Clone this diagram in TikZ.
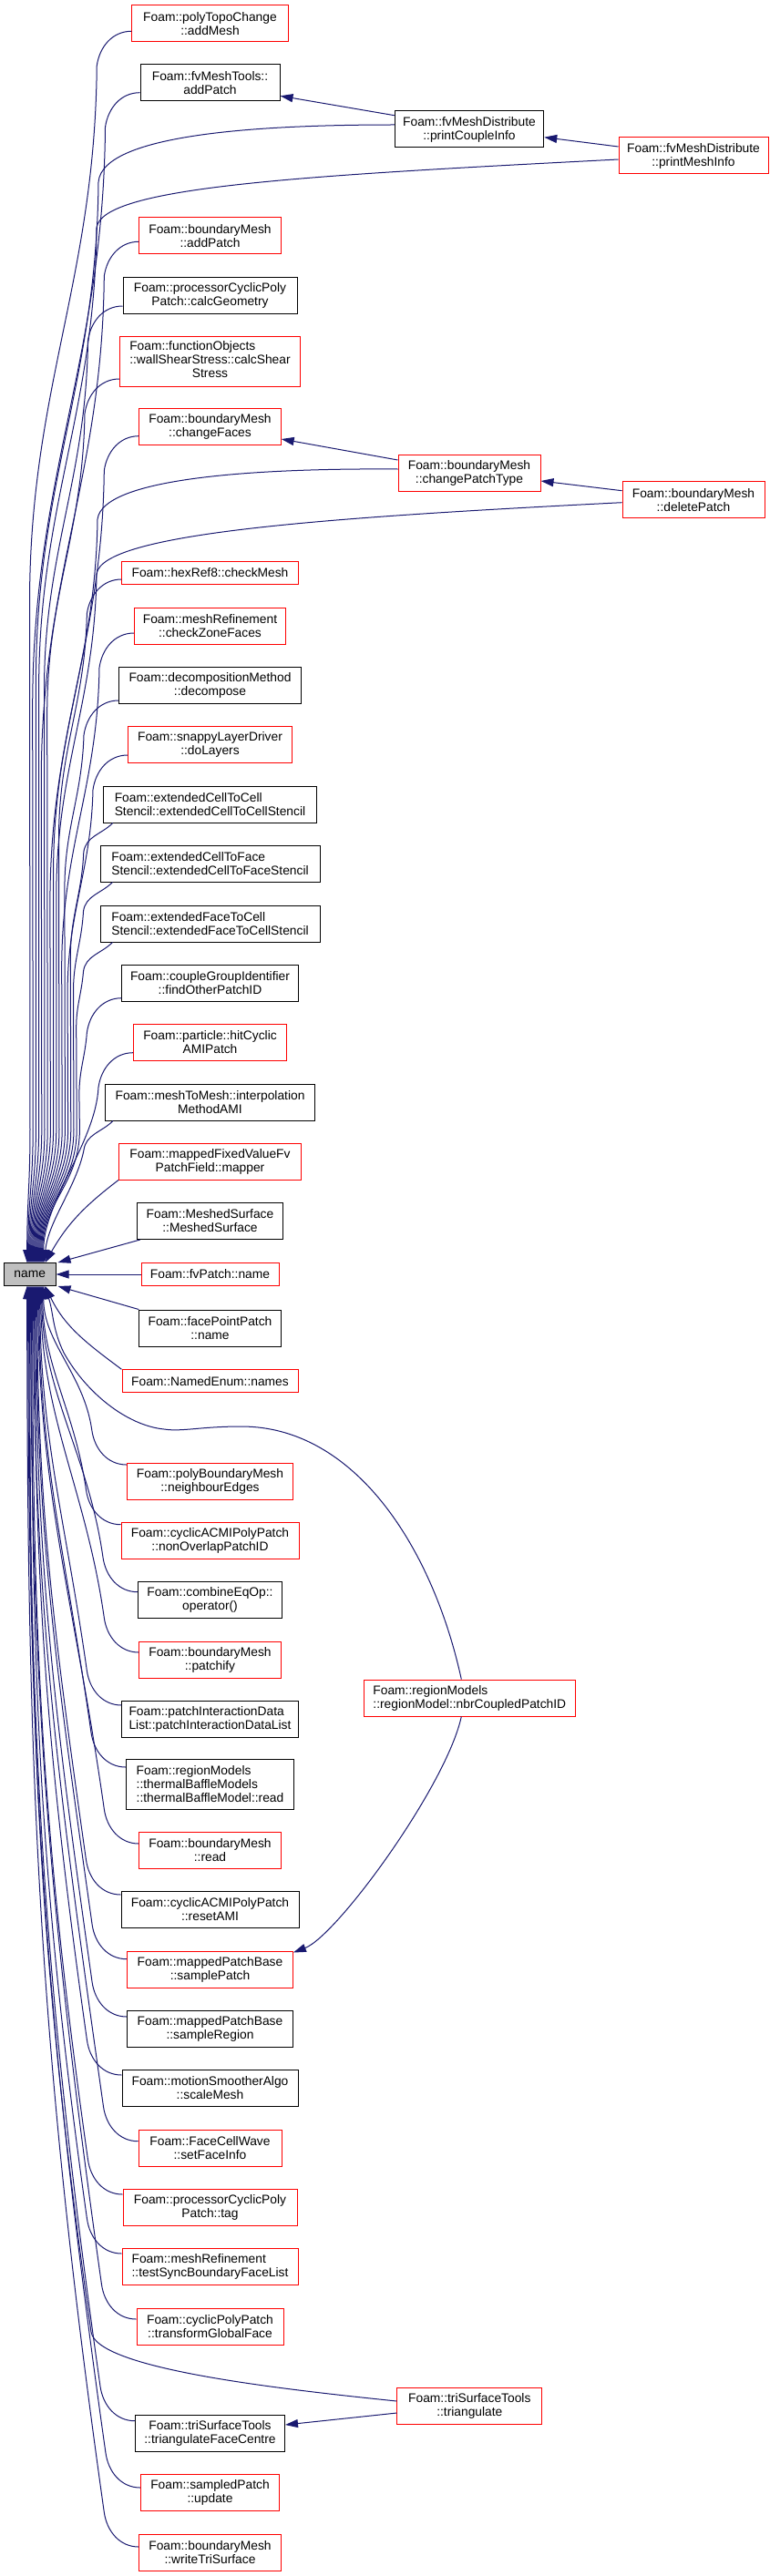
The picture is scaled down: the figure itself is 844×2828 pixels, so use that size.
\documentclass[tikz,border=0pt]{standalone}
\usepackage{fontspec}
\setmainfont{Liberation Sans}
\usetikzlibrary{arrows.meta,calc}
\definecolor{edgec}{HTML}{191970}
\definecolor{grayfill}{HTML}{BFBFBF}
\definecolor{redc}{HTML}{FF0000}
\newcommand\dxfont{\fontsize{13.8pt}{15pt}\selectfont}
% tail of a top edge: drift to a lane, run down it, converge on name
\newcommand\lanetail[4]{.. controls +(-2,{0.4*#2}) and +(0,{-0.4*#2}) .. ++(#1,#2) -- (#3,1240) .. controls (#3,1300) and ($(fname.north)+(#4,-67)$) .. ($(fname.north)+(#4,0)$)}
\newcommand\laneedge[7]{\draw[conn] #1 to[out=#2,in=82] ++(-#3,#3) \lanetail{#5}{#6}{#7}{#4};}
\newcommand\botedge[5]{\draw[conn] #1 to[out=#2,in=-82] ++(-#3,-#3) .. controls +({-0.14*#5},{-0.99*#5}) and +(0,#5) .. ($(fname.south)+(#4,0)$);}
\tikzset{
  dbox/.style={draw, line width=1pt, fill=white, inner xsep=3pt, inner ysep=0pt, minimum height=40pt, align=center, font=\dxfont},
  rbox/.style={dbox, draw=redc},
  bbox/.style={dbox, draw=black},
  gbox/.style={dbox, draw=black, fill=grayfill},
  mw/.style={minimum width=#1pt},
  hs/.style={minimum height=25pt},
  hl/.style={minimum height=55pt},
  conn/.style={draw=edgec, line width=1pt, -{Triangle[length=14pt,width=9pt]}}
}
\begin{document}
\begin{tikzpicture}[x=1pt,y=-1pt]
\useasboundingbox (0,0) rectangle (844,2828);
\fill[white] (0,0) rectangle (844,2828);

% nodes
\node[rbox, mw=171.5] (addMesh) at (230.5,25.7) {Foam::polyTopoChange\\::addMesh};
\node[bbox, mw=153] (fvaddPatch) at (230.5,91) {Foam::fvMeshTools::\\addPatch};
\node[bbox, mw=163.5] (printCouple) at (515,142) {Foam::fvMeshDistribute\\::printCoupleInfo};
\node[rbox, mw=164] (printMesh) at (761,171) {Foam::fvMeshDistribute\\::printMeshInfo};
\node[rbox, mw=155.4] (bmaddPatch) at (230.5,259) {Foam::boundaryMesh\\::addPatch};
\node[bbox, mw=191] (calcGeom) at (230.5,324.3) {Foam::processorCyclicPoly\\Patch::calcGeometry};
\node[rbox, mw=198, hl] (calcShear) at (230.5,396.5) {\begin{tabular}{@{}l@{}}Foam::functionObjects\\::wallShearStress::calcShear\\\multicolumn{1}{@{}c@{}}{Stress}\end{tabular}};
\node[rbox, mw=155.4] (changeFaces) at (230.5,468) {Foam::boundaryMesh\\::changeFaces};
\node[rbox, mw=156] (changePatchType) at (515,519) {Foam::boundaryMesh\\::changePatchType};
\node[rbox, mw=156] (deletePatch) at (761,548.7) {Foam::boundaryMesh\\::deletePatch};
\node[rbox, mw=193.3, hs] (checkMesh) at (230.5,628.5) {Foam::hexRef8::checkMesh};
\node[rbox, mw=166] (checkZone) at (230.5,687) {Foam::meshRefinement\\::checkZoneFaces};
\node[bbox, mw=200] (decompose) at (230.5,752.3) {Foam::decompositionMethod\\::decompose};
\node[rbox, mw=180] (doLayers) at (230.5,817.5) {Foam::snappyLayerDriver\\::doLayers};
\node[bbox, mw=234.4, align=left] (eCC) at (230.5,883) {Foam::extendedCellToCell\\Stencil::extendedCellToCellStencil};
\node[bbox, mw=241, align=left] (eCF) at (230.5,948) {Foam::extendedCellToFace\\Stencil::extendedCellToFaceStencil};
\node[bbox, mw=241, align=left] (eFC) at (230.5,1014) {Foam::extendedFaceToCell\\Stencil::extendedFaceToCellStencil};
\node[bbox, mw=193.3] (findOther) at (230.5,1079) {Foam::coupleGroupIdentifier\\::findOtherPatchID};
\node[rbox, mw=168] (hitCyclic) at (230.5,1144.3) {Foam::particle::hitCyclic\\AMIPatch};
\node[bbox, mw=230] (interp) at (230.5,1210) {Foam::meshToMesh::interpolation\\MethodAMI};
\node[rbox, mw=200] (mapper) at (230.5,1275) {Foam::mappedFixedValueFv\\PatchField::mapper};
\node[bbox, mw=160.6] (meshedSurf) at (230.5,1340.5) {Foam::MeshedSurface\\::MeshedSurface};
\node[gbox, mw=56.7, hs, inner xsep=0pt] (fname) at (32.7,1399) {name};
\node[rbox, mw=151, hs] (fvPatchName) at (230.5,1399) {Foam::fvPatch::name};
\node[bbox, mw=155.4] (facePointName) at (230.5,1458) {Foam::facePointPatch\\::name};
\node[rbox, mw=193, hs] (namedEnum) at (230.5,1516.3) {Foam::NamedEnum::names};
\node[rbox, mw=182.4] (neighbourEdges) at (230.5,1626) {Foam::polyBoundaryMesh\\::neighbourEdges};
\node[rbox, mw=195] (nonOverlap) at (230.5,1691) {Foam::cyclicACMIPolyPatch\\::nonOverlapPatchID};
\node[bbox, mw=158] (operatorNode) at (230.5,1756.3) {Foam::combineEqOp::\\operator()};
\node[rbox, mw=155.4] (patchify) at (230.5,1822) {Foam::boundaryMesh\\::patchify};
\node[rbox, mw=232.5, align=left] (nbrCoupled) at (515.3,1864) {Foam::regionModels\\::regionModel::nbrCoupledPatchID};
\node[bbox, mw=193.3, align=left] (patchInter) at (230.5,1887) {Foam::patchInteractionData\\List::patchInteractionDataList};
\node[bbox, mw=184, hl, align=left] (thermalRead) at (230.5,1959) {Foam::regionModels\\::thermalBaffleModels\\::thermalBaffleModel::read};
\node[rbox, mw=155.4] (bmRead) at (230.5,2031) {Foam::boundaryMesh\\::read};
\node[bbox, mw=195] (resetAMI) at (230.5,2096.3) {Foam::cyclicACMIPolyPatch\\::resetAMI};
\node[rbox, mw=181.8] (samplePatch) at (230.5,2162) {Foam::mappedPatchBase\\::samplePatch};
\node[bbox, mw=181.8] (sampleRegion) at (230.5,2227) {Foam::mappedPatchBase\\::sampleRegion};
\node[bbox, mw=193] (scaleMesh) at (230.5,2292.3) {Foam::motionSmootherAlgo\\::scaleMesh};
\node[rbox, mw=157] (setFaceInfo) at (230.5,2358) {Foam::FaceCellWave\\::setFaceInfo};
\node[rbox, mw=191] (tagNode) at (230.5,2423) {Foam::processorCyclicPoly\\Patch::tag};
\node[rbox, mw=193, align=left] (testSync) at (230.5,2488.3) {Foam::meshRefinement\\::testSyncBoundaryFaceList};
\node[rbox, mw=161] (transformGF) at (230.5,2554) {Foam::cyclicPolyPatch\\::transformGlobalFace};
\node[rbox, mw=158.7] (triangulate) at (515.3,2641.5) {Foam::triSurfaceTools\\::triangulate};
\node[bbox, mw=164] (triFC) at (230.5,2671) {Foam::triSurfaceTools\\::triangulateFaceCentre};
\node[rbox, mw=152] (update) at (230.5,2736.3) {Foam::sampledPatch\\::update};
\node[rbox, mw=155.4] (writeTri) at (230.5,2802) {Foam::boundaryMesh\\::writeTriSurface};

% edges into the top of name
\laneedge{($(addMesh.west)+(0,8.6)$)}{180}{38}{-3}{-73.75}{590}{33}
\laneedge{($(fvaddPatch.west)+(0,10.7)$)}{180}{38}{-2}{-79.8}{638}{36.2}
\draw[conn] ($(printCouple.west)+(0,-5)$) .. controls (300,137) and (112,145) .. (108,200) \lanetail{-68.6}{549}{39.4}{-1};
\draw[conn] ($(printMesh.west)+(0,4)$) .. controls (330,193) and (112,205) .. (106,250) \lanetail{-63.4}{507}{42.6}{0};
\laneedge{($(bmaddPatch.west)+(0,6.3)$)}{180}{38}{1}{-69}{552}{45.8}
\laneedge{($(calcGeom.west)+(0,11.7)$)}{180}{38}{2}{-48}{384}{49}
\laneedge{($(calcShear.west)+(0,19.5)$)}{180}{38}{3}{-41.3}{330}{52.2}
\laneedge{($(changeFaces.west)+(0,10.7)$)}{180}{38}{4}{-59.4}{475}{55.4}
\draw[conn] ($(changePatchType.west)+(0,-4)$) .. controls (300,514) and (113,522) .. (107,570) \lanetail{-48.4}{387}{58.6}{5};
\draw[conn] ($(deletePatch.west)+(0,3)$) .. controls (360,568) and (112,585) .. (106,630) \lanetail{-44.2}{354}{61.8}{6};
\laneedge{($(checkMesh.west)+(0,7.5)$)}{180}{38}{7}{-30.85}{247}{65}
\laneedge{($(checkZone.west)+(0,8)$)}{180}{38}{8}{-41.3}{330}{68.2}
\laneedge{($(decompose.west)+(0,16.7)$)}{180}{38}{9}{-21.1}{169}{71.4}
\laneedge{($(doLayers.west)+(0,11.5)$)}{180}{38}{10}{-27.9}{223}{74.6}
\laneedge{($(eCC.south west)+(11,0)$)}{-135}{32}{11}{-14.5}{116}{77.8}
\laneedge{($(eCF.south west)+(14,0)$)}{-135}{32}{12}{-11}{88}{81}
\laneedge{($(eFC.south west)+(14,0)$)}{-135}{32}{13}{-7.8}{62}{84.2}
\laneedge{($(findOther.west)+(0,16.7)$)}{180}{38}{14}{-8.45}{68}{87.4}
\draw[conn] ($(hitCyclic.west)+(0,11.4)$) to[out=180,in=82] ++(-38,38) .. controls +(-3,60) and ($(fname.north)+(15,-67)$) .. ($(fname.north)+(15,0)$);
\draw[conn] ($(interp.south west)+(9,0)$) to[out=-135,in=82] ++(-32,32) .. controls +(-8,40) and +(4,-45) .. ($(fname.north)+(16,0)$);
\draw[conn] (mapper.south west) .. controls +(-38,29) and +(24,-42) .. ($(fname.north)+(17,0)$);
\draw[conn] ($(meshedSurf.south west)+(4,0)$) -- ($(fname.north east)+(2,0)$);

% side edge
\draw[conn] (fvPatchName.west) -- (fname.east);

% edges into the bottom of name
\draw[conn] (facePointName.north west) -- ($(fname.south east)+(2,0)$);
\draw[conn] (namedEnum.north west) .. controls +(-39,-29) and +(21,44) .. ($(fname.south)+(17,0)$);
\draw[conn] ($(nbrCoupled.north)+(-9,0)$) .. controls (475,1700) and (390,1566) .. (265,1566) .. controls (220,1566) and (200,1572) .. (180,1569) .. controls (140,1565) and (95,1530) .. (70,1485) .. controls +(-13,-27) and +(10,28) .. ($(fname.south)+(16,0)$);
\botedge{($(neighbourEdges.west)+(0,-18)$)}{180}{38}{15}{62}
\botedge{($(nonOverlap.west)+(0,-17.3)$)}{180}{38}{14}{87}
\botedge{($(operatorNode.west)+(0,-8.6)$)}{180}{38}{13}{116}
\botedge{($(patchify.west)+(0,-8)$)}{180}{38}{12}{142}
\botedge{($(patchInter.west)+(0,-15)$)}{180}{38}{11}{165}
\botedge{($(thermalRead.west)+(0,-19)$)}{180}{38}{10}{191}
\botedge{($(bmRead.west)+(0,-7)$)}{180}{38}{9}{224}
\botedge{($(resetAMI.west)+(0,-16.3)$)}{180}{38}{8}{246}
\botedge{($(samplePatch.west)+(0,-11.3)$)}{180}{38}{7}{273}
\botedge{($(sampleRegion.west)+(0,-13)$)}{180}{38}{6}{298}
\botedge{($(scaleMesh.west)+(0,-14.3)$)}{180}{38}{5}{323}
\botedge{($(setFaceInfo.west)+(0,-7.3)$)}{180}{38}{4}{351}
\botedge{($(tagNode.west)+(0,-14)$)}{180}{38}{3}{374}
\botedge{($(testSync.west)+(0,-14.3)$)}{180}{38}{2}{400}
\botedge{($(transformGF.west)+(0,-8)$)}{180}{38}{1}{428}
\draw[conn] ($(triangulate.west)+(0,-5.5)$) .. controls (300,2622) and (106,2600) .. (100,2560) .. controls +(-63,-444) and +(0,448) .. ($(fname.south)+(0,0)$);
\botedge{($(triFC.west)+(0,-13.3)$)}{180}{38}{-1}{471}
\botedge{($(update.west)+(0,-5.3)$)}{180}{38}{-2}{500}
\botedge{($(writeTri.west)+(0,-6)$)}{180}{38}{-3}{525}

% edges between callers
\draw[conn] ($(printCouple.west)+(0,-15.3)$) -- ($(fvaddPatch.east)+(0,14.3)$);
\draw[conn] ($(printMesh.west)+(0,-10)$) -- ($(printCouple.east)+(0,8.7)$);
\draw[conn] ($(changePatchType.west)+(0,-14)$) -- ($(changeFaces.east)+(0,14)$);
\draw[conn] ($(deletePatch.west)+(0,-10)$) -- ($(changePatchType.east)+(0,9)$);
\draw[conn] ($(triangulate.west)+(0,7.5)$) -- ($(triFC.east)+(0,-9)$);
\draw[conn] ($(nbrCoupled.south)+(-9,0)$) .. controls (490,1960) and (370,2125) .. ($(samplePatch.north east)+(0,2)$);
\end{tikzpicture}
\end{document}
